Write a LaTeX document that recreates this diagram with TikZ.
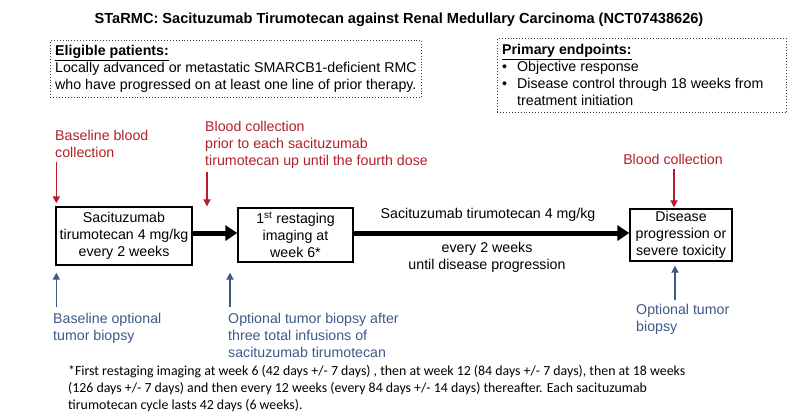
\documentclass[tikz,border=0pt]{standalone}
\usepackage{fontspec}
\setmainfont{Liberation Sans}
\newfontfamily\notefont{Carlito}
\usetikzlibrary{arrows.meta,positioning,calc}
\definecolor{bloodred}{RGB}{180,30,40}
\definecolor{biopsyblue}{RGB}{62,88,135}
\newcommand{\bodysize}{\fontsize{14.2}{17}\selectfont}

\begin{document}
\begin{tikzpicture}[x=1pt,y=-1pt,
    stage/.style={draw, line width=1.3pt, align=center, inner sep=0pt, font=\bodysize},
    infobox/.style={draw=black!75, dotted, line width=0.9pt, inner sep=0pt, anchor=north west},
    plain/.style={inner sep=0pt, align=left, font=\bodysize, anchor=north west},
    bloodtxt/.style={plain, text=bloodred},
    biopsytxt/.style={plain, text=biopsyblue},
    bloodarr/.style={draw=bloodred, line width=1.7pt, -{Triangle[length=7pt,width=7pt]}},
    biopsyarr/.style={draw=biopsyblue, line width=1.7pt, -{Triangle[length=7pt,width=7pt]}},
    dose/.style={line width=5pt, -{Triangle[length=12pt,width=15pt]}}]
    \useasboundingbox (0,0) rectangle (800,418);

    % Title and boxes on top
    \node[font=\bfseries\fontsize{14.6}{18}\selectfont] (title) at (399,20)
        {STaRMC: Sacituzumab Tirumotecan against Renal Medullary Carcinoma (NCT07438626)};
    \node[infobox, minimum width=371, minimum height=57] (eligible) at (50,40) {};
    \node[plain] (eligtxt) at (55,45) {\underline{\textbf{Eligible patients:}}\\
        Locally advanced or metastatic SMARCB1-deficient RMC\\
        who have progressed on at least one line of prior therapy.};
    \node[infobox, minimum width=289, minimum height=74] (primary) at (497,38) {};
    \node[plain] (primtxt) at (502,44) {\underline{\textbf{Primary endpoints:}}\\
        \textbullet\hspace{10pt}Objective response\\
        \textbullet\hspace{10pt}Disease control through 18 weeks from\\
        \hspace*{15pt}treatment initiation};

    % Treatment stages
    \node[stage, minimum width=136, minimum height=58] (treat) at (124,236)
        {Sacituzumab\\tirumotecan 4 mg/kg\\every 2 weeks};
    \node[stage, minimum width=115, minimum height=54] (restage) at (295.5,235)
        {1\textsuperscript{st} restaging\\imaging at\\week 6*};
    \node[stage, minimum width=102, minimum height=52] (progress) at (681,235)
        {Disease\\progression or\\severe toxicity};

    \draw[dose] ([yshift=3pt]treat.east) -- ([yshift=3pt]treat.east -| restage.west);
    \draw[dose] ([yshift=2pt]restage.east) -- ([yshift=2pt]restage.east -| progress.west);
    \node[font=\bodysize] (dosetxt) at (488,215) {Sacituzumab tirumotecan 4 mg/kg};
    \node[font=\bodysize, align=center] (schedule) at (487,257) {every 2 weeks\\until disease progression};

    % Blood collection
    \node[bloodtxt] (blood1) at (55,130) {Baseline blood\\collection};
    \node[bloodtxt] (blood2) at (205,121) {Blood collection\\prior to each sacituzumab\\tirumotecan up until the fourth dose};
    \node[bloodtxt, anchor=north] (blood3) at (673,154.5) {Blood collection};
    \draw[bloodarr, shorten <=4pt, shorten >=3pt] ([xshift=1pt]treat.north west |- blood1.south) -- ([xshift=1pt]treat.north west);
    \draw[bloodarr, shorten <=3pt, shorten >=1pt] ([xshift=2pt]blood2.south west) -- ([xshift=2pt]blood2.south west |- restage.north);
    \draw[bloodarr, shorten <=4pt, shorten >=1pt] ([xshift=1pt]blood3.south) -- ([xshift=1pt]blood3.south |- progress.north);

    % Tumor biopsy
    \node[biopsytxt] (biopsy1) at (53,313) {Baseline optional\\tumor biopsy};
    \node[biopsytxt] (biopsy2) at (228,313) {Optional tumor biopsy after\\three total infusions of\\sacituzumab tirumotecan};
    \node[biopsytxt] (biopsy3) at (636,304) {Optional tumor\\biopsy};
    \draw[biopsyarr, shorten <=6pt, shorten >=7pt] ([xshift=1pt]treat.south west |- biopsy1.north) -- ([xshift=1pt]treat.south west);
    \draw[biopsyarr, shorten <=6pt, shorten >=10pt] ([xshift=2pt]biopsy2.north west) -- ([xshift=2pt]biopsy2.north west |- restage.south);
    \draw[biopsyarr, shorten <=4pt, shorten >=4pt] ([xshift=2pt]biopsy3.north -| blood3.south) -- ([xshift=2pt]blood3.south |- progress.south);

    % Footnote
    \node[plain, font=\notefont\fontsize{13.85}{17}\selectfont] (note) at (68,365)
        {*First restaging imaging at week 6 (42 days +/- 7 days) , then at week 12 (84 days +/- 7 days), then at 18 weeks\\
        (126 days +/- 7 days) and then every 12 weeks (every 84 days +/- 14 days) thereafter. Each sacituzumab\\
        tirumotecan cycle lasts 42 days (6 weeks).};
\end{tikzpicture}
\end{document}
